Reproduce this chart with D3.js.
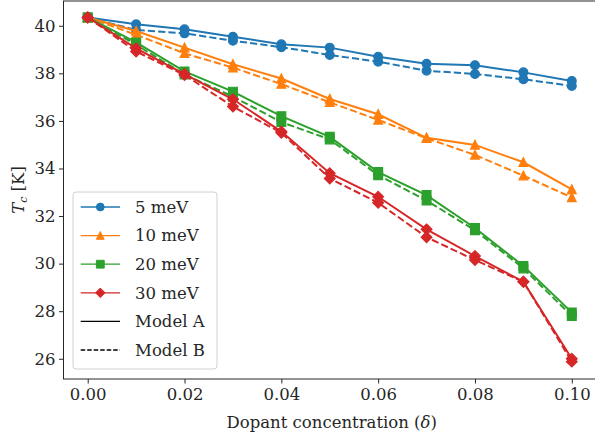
<!DOCTYPE html>
<html><head><meta charset="utf-8">
<script src="https://cdn.jsdelivr.net/npm/d3@7"></script>
<style>
html,body{margin:0;padding:0;background:#fff;}
svg text{font-family:"DejaVu Serif",serif;fill:#262626;}
</style></head>
<body><svg id="chart" width="595" height="441"></svg>
<script>
const dopant = [0.00,0.01,0.02,0.03,0.04,0.05,0.06,0.07,0.08,0.09,0.10];
const xTicks = [0.00,0.02,0.04,0.06,0.08,0.10];
const yTicks = [26,28,30,32,34,36,38,40];
const seriesNames = ["5 meV","10 meV","20 meV","30 meV"];
const colors = ["#1f77b4","#ff7f0e","#2ca02c","#d62728"];
const markers = ["circle","triangle","square","diamond"];
const modelA_5  = [40.35,40.06,39.85,39.54,39.22,39.08,38.70,38.40,38.34,38.04,37.68];
const modelB_5  = [40.35,39.82,39.68,39.37,39.10,38.77,38.49,38.11,37.97,37.75,37.47];
const modelA_10 = [40.35,39.78,39.08,38.38,37.78,36.92,36.28,35.29,34.99,34.26,33.12];
const modelB_10 = [40.35,39.62,38.84,38.24,37.55,36.78,36.04,35.27,34.57,33.70,32.78];
const modelA_20 = [40.35,39.30,38.08,37.23,36.20,35.33,33.85,32.88,31.50,29.90,27.95];
const modelB_20 = [40.35,39.20,37.95,37.02,35.95,35.22,33.72,32.65,31.40,29.80,27.80];
const modelA_30 = [40.35,39.05,37.97,36.91,35.55,33.80,32.81,31.44,30.32,29.24,26.00];
const modelB_30 = [40.35,38.92,37.93,36.60,35.50,33.58,32.56,31.11,30.15,29.24,25.88];
const modelA = [modelA_5, modelA_10, modelA_20, modelA_30];
const modelB = [modelB_5, modelB_10, modelB_20, modelB_30];

const svg = d3.select("#chart");
const L = 63.5, R = 596, T = 1, B = 379;
const x = d3.scaleLinear().domain([-0.005, 0.105]).range([L, R]);
const y = d3.scaleLinear().domain([25.15, 41.04]).range([B, T]);

function markerPath(type, s){
  const h = s/2;
  if(type==="circle"){const p=d3.path();p.moveTo(h,0);p.arc(0,0,h,0,2*Math.PI);p.closePath();return p.toString();}
  if(type==="square") return `M${-h},${-h}H${h}V${h}H${-h}Z`;
  if(type==="triangle") return `M0,${-h*1.05}L${h},${h*0.95}L${-h},${h*0.95}Z`;
  if(type==="diamond"){const d=h*1.22;return `M0,${-d}L${d},0L0,${d}L${-d},0Z`;}
}

// data
const line = d3.line().x((d,i)=>x(dopant[i])).y(d=>y(d));
const plot = svg.append("g");
for(let s=0;s<4;s++){
  [[modelA[s],null],[modelB[s],"7.2,3.1"]].forEach(([vals,dash])=>{
    const g = plot.append("g");
    g.append("path").attr("d", line(vals)).attr("fill","none")
      .attr("stroke",colors[s]).attr("stroke-width",2)
      .attr("stroke-dasharray",dash);
    g.selectAll("path.m").data(vals).join("path").attr("class","m")
      .attr("transform",(d,i)=>`translate(${x(dopant[i])},${y(d)})`)
      .attr("d", markerPath(markers[s], 8.8))
      .attr("fill",colors[s]).attr("stroke",colors[s]).attr("stroke-width",1.2);
  });
}

// axes
const xAxis = svg.append("g").attr("transform",`translate(0,${B})`)
  .call(d3.axisBottom(x).tickValues(xTicks).tickFormat(d3.format(".2f")).tickSize(4.5).tickSizeOuter(0).tickPadding(4.5));
const yAxis = svg.append("g").attr("transform",`translate(${L},0)`)
  .call(d3.axisLeft(y).tickValues(yTicks).tickFormat(d3.format("d")).tickSize(4.5).tickSizeOuter(0).tickPadding(3.5));
[xAxis,yAxis].forEach(a=>{
  a.select(".domain").remove();
  a.selectAll("line").attr("stroke","#262626").attr("stroke-width",1);
  a.selectAll("text").attr("font-size",16.5).attr("fill","#262626").style("font-family","DejaVu Serif");
});
svg.append("rect").attr("x",L).attr("y",T).attr("width",R-L).attr("height",B-T)
  .attr("fill","none").attr("stroke","#262626").attr("stroke-width",1);

// axis labels
svg.append("text").attr("x",(L+R)/2+2).attr("y",428).attr("text-anchor","middle").attr("font-size",16.5)
  .html('Dopant concentration (<tspan font-style="italic">δ</tspan>)');
svg.append("text").attr("transform",`translate(24,${(T+B)/2}) rotate(-90)`).attr("text-anchor","middle").attr("font-size",16.5)
  .html('<tspan font-style="italic">T</tspan><tspan font-style="italic" font-size="11" dy="3">c</tspan><tspan dy="-3"> [K]</tspan>');

// legend
const leg = svg.append("g");
leg.append("rect").attr("x",73).attr("y",192).attr("width",144).attr("height",177).attr("rx",3)
  .attr("fill","#fff").attr("fill-opacity",0.8).attr("stroke","#d0d0d0").attr("stroke-width",1);
const entries = seriesNames.map((n,i)=>({label:n,color:colors[i],marker:markers[i],dash:null}))
  .concat([{label:"Model A",color:"#000",marker:null,dash:null},{label:"Model B",color:"#000",marker:null,dash:"4.5,2"}]);
const rowY = d3.scaleLinear().domain([0,5]).range([207,350]);
entries.forEach((e,i)=>{
  const yy = rowY(i);
  leg.append("line").attr("x1",80.7).attr("x2",120).attr("y1",yy).attr("y2",yy)
    .attr("stroke",e.color).attr("stroke-width",1.3).attr("stroke-dasharray",e.dash);
  if(e.marker) leg.append("path").attr("transform",`translate(100.3,${yy})`).attr("d",markerPath(e.marker,7.8))
    .attr("fill",e.color).attr("stroke",e.color).attr("stroke-width",1);
  leg.append("text").attr("x",135).attr("y",yy).attr("dy","0.35em").attr("font-size",16.5).text(e.label);
});
</script></body></html>
